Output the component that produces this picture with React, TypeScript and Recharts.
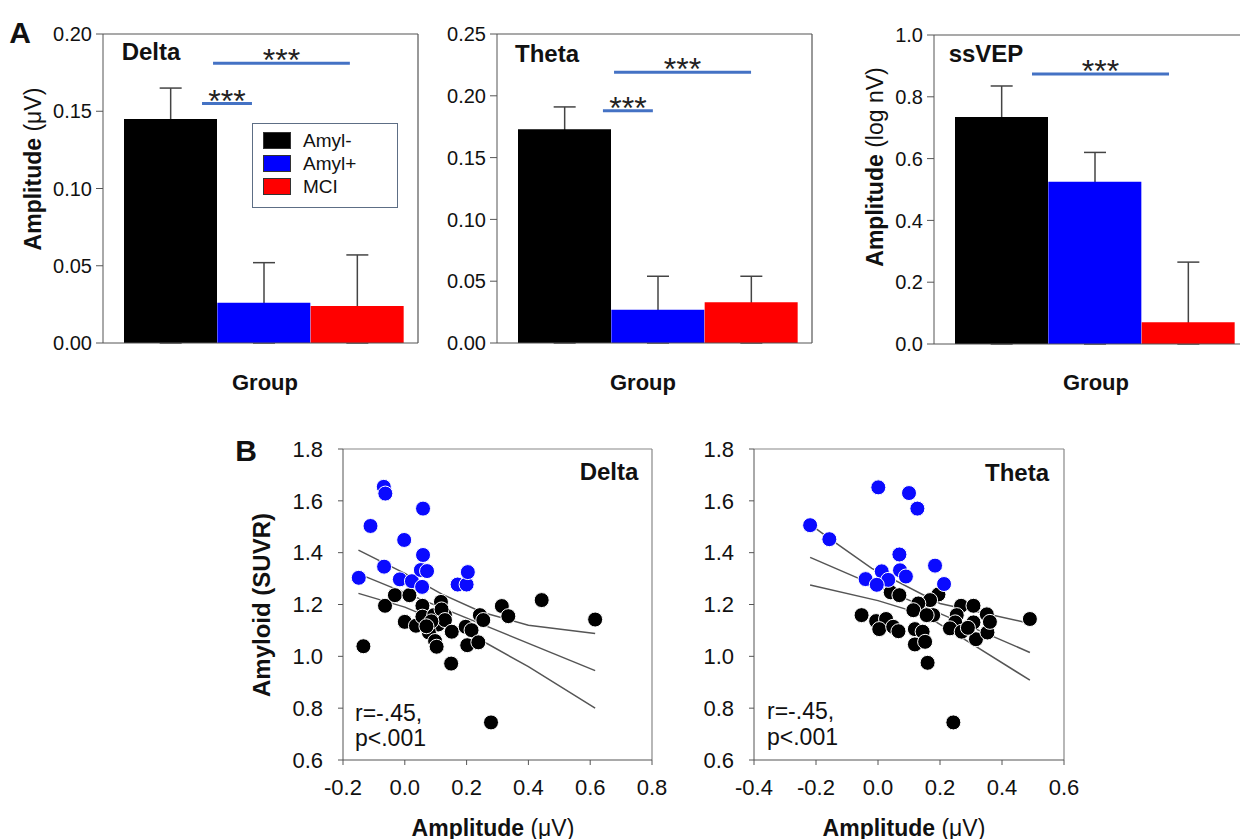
import React from "react";
import {
  BarChart,
  Bar,
  Cell,
  XAxis,
  YAxis,
  ErrorBar,
  ReferenceLine,
  Legend,
  ScatterChart,
  Scatter,
} from "recharts";

const FONT = '"Liberation Sans", Arial, Helvetica, sans-serif';
const AXIS = "#555";
const SIG = "#4472c4";
const FIT = "#555";

// groups (panel A)
const GROUPS = ["Amyl-", "Amyl+", "MCI"];
const GROUP_COLORS = ["#000000", "#0000ff", "#ff0000"];

// bar means and upper error (SE)
const deltaMean = [0.145, 0.026, 0.024];
const deltaErr = [0.02, 0.026, 0.033];
const thetaMean = [0.173, 0.027, 0.033];
const thetaErr = [0.018, 0.027, 0.021];
const ssvepMean = [0.735, 0.525, 0.07];
const ssvepErr = [0.1, 0.095, 0.195];

const deltaTicks = [0, 0.05, 0.1, 0.15, 0.2];
const thetaTicks = [0, 0.05, 0.1, 0.15, 0.2, 0.25];
const ssvepTicks = [0, 0.2, 0.4, 0.6, 0.8, 1.0];

// significance bars: [from, to, level] on the group index scale (0 = Amyl-)
const deltaSig = [
  [0.336, 0.871, 0.155],
  [0.454, 1.92, 0.181],
];
const thetaSig = [
  [0.41, 0.945, 0.188],
  [0.529, 1.997, 0.219],
];
const ssvepSig = [[0.325, 1.793, 0.874]];

// panel B scatter points [amplitude, SUVR]
const deltaAmylPos = [
  [-0.068, 1.654], [-0.063, 1.628], [-0.111, 1.503], [0.059, 1.57],
  [-0.002, 1.449], [0.059, 1.391], [-0.067, 1.346], [-0.149, 1.303],
  [-0.016, 1.297], [0.023, 1.29], [0.052, 1.333], [0.072, 1.329],
  [0.056, 1.268], [0.171, 1.277], [0.2, 1.277], [0.204, 1.325],
];
const deltaAmylNeg = [
  [-0.134, 1.039], [-0.064, 1.195], [-0.032, 1.236], [0.015, 1.236],
  [0.0, 1.133], [0.036, 1.118], [0.057, 1.195], [0.057, 1.153],
  [0.095, 1.159], [0.13, 1.159], [0.108, 1.123], [0.078, 1.092],
  [0.098, 1.059], [0.103, 1.037], [0.117, 1.21], [0.119, 1.181],
  [0.13, 1.14], [0.152, 1.095], [0.15, 0.972], [0.197, 1.114],
  [0.216, 1.101], [0.202, 1.043], [0.238, 1.054], [0.243, 1.159],
  [0.254, 1.14], [0.279, 0.745], [0.314, 1.194], [0.335, 1.155],
  [0.443, 1.217], [0.616, 1.142], [0.086, 1.135], [0.07, 1.116],
];
const deltaFit = [[-0.151, 1.319], [0.616, 0.945]];
const deltaUpper = [[-0.15, 1.41], [0.0, 1.32], [0.12, 1.24], [0.25, 1.17], [0.4, 1.12], [0.616, 1.088]];
const deltaLower = [[-0.15, 1.243], [0.0, 1.19], [0.12, 1.13], [0.25, 1.06], [0.4, 0.96], [0.616, 0.8]];

const thetaAmylPos = [
  [0.001, 1.652], [0.1, 1.63], [0.127, 1.57], [-0.219, 1.506],
  [-0.157, 1.452], [0.069, 1.393], [0.012, 1.328], [0.071, 1.332],
  [0.09, 1.308], [0.184, 1.35], [-0.04, 1.298], [0.033, 1.295],
  [-0.004, 1.276], [0.213, 1.279],
];
const thetaAmylNeg = [
  [0.041, 1.247], [0.069, 1.236], [0.195, 1.239], [0.168, 1.217],
  [0.13, 1.204], [0.114, 1.178], [0.178, 1.159], [0.157, 1.159],
  [-0.053, 1.159], [-0.006, 1.136], [0.026, 1.144], [0.004, 1.105],
  [0.049, 1.114], [0.066, 1.097], [0.119, 1.105], [0.144, 1.095],
  [0.119, 1.046], [0.152, 1.056], [0.16, 0.975], [0.268, 1.195],
  [0.308, 1.195], [0.351, 1.162], [0.254, 1.159], [0.249, 1.131],
  [0.308, 1.131], [0.232, 1.108], [0.27, 1.095], [0.316, 1.066],
  [0.353, 1.092], [0.361, 1.133], [0.29, 1.11], [0.49, 1.144],
  [0.243, 0.745],
];
const thetaFit = [[-0.219, 1.382], [0.49, 1.015]];
const thetaUpper = [[-0.219, 1.509], [-0.155, 1.453], [-0.02, 1.339], [0.2, 1.204], [0.49, 1.127]];
const thetaLower = [[-0.219, 1.275], [0.0, 1.215], [0.15, 1.16], [0.3, 1.05], [0.49, 0.908]];

const suvrTicks = [0.6, 0.8, 1.0, 1.2, 1.4, 1.6, 1.8];
const deltaAmpTicks = [-0.2, 0.0, 0.2, 0.4, 0.6, 0.8];
const thetaAmpTicks = [-0.4, -0.2, 0.0, 0.2, 0.4, 0.6];

// group index axis used for the annotation layer (matches the band centres)
const GROUP_DOMAIN = [-0.725, 2.65];

const pts = (arr: number[][]) => arr.map(([x, y]) => ({ x, y }));

function Txt({ x, y, size, bold, rot, left, children }: any) {
  return (
    <div
      style={{
        position: "absolute",
        left: x,
        top: y,
        transform: `translate(${left ? "0" : "-50%"}, -50%)${rot ? " rotate(-90deg)" : ""}`,
        fontSize: size,
        fontWeight: bold ? 700 : 400,
        whiteSpace: "nowrap",
        lineHeight: 1,
        color: "#111",
      }}
    >
      {children}
    </div>
  );
}

const renderStars = (props: any) => {
  const vb = props.viewBox;
  if (!vb) return null;
  return (
    <text
      x={vb.x + vb.width / 2}
      y={vb.y + 8}
      textAnchor="middle"
      fontSize={32}
      fill="#222"
      fontFamily={FONT}
    >
      ***
    </text>
  );
};

const LegendBox = () => (
  <div
    style={{
      width: 146,
      height: 85,
      boxSizing: "border-box",
      border: "1.5px solid #5d6e85",
      background: "#fff",
      position: "relative",
      fontFamily: FONT,
    }}
  >
    {GROUPS.map((g, i) => (
      <div key={g} style={{ position: "absolute", left: 10, top: 7 + i * 23, display: "flex", alignItems: "center", height: 19 }}>
        <div style={{ width: 28, height: 17, background: GROUP_COLORS[i], border: "1px solid #333", boxSizing: "border-box" }} />
        <span style={{ marginLeft: 12, fontSize: 19, color: "#111" }}>{g}</span>
      </div>
    ))}
  </div>
);

const noDot = () => <g />;

function BarPanel({ left, width, plotLeft, plotRight, plotTop, means, errs, ticks, digits, sig, legend }: any) {
  const data = GROUPS.map((g, i) => ({ group: g, value: means[i] }));
  // error whiskers: drawn under the bars, so only the upper half shows
  const errData = means.map((m: number, i: number) => ({ x: i, y: m, err: [m, errs[i]] }));
  const height = 400;
  const plotBottom = plotTop + 309;
  const yMax = ticks[ticks.length - 1];
  return (
    <div style={{ position: "absolute", left, top: 0, width, height }}>
      <div style={{ position: "absolute", left: 0, top: 0 }}>
        <ScatterChart
          width={width}
          height={height}
          margin={{ top: plotTop, left: plotLeft - left, right: left + width - plotRight, bottom: height - plotBottom }}
        >
          <XAxis type="number" dataKey="x" domain={GROUP_DOMAIN} allowDataOverflow hide />
          <YAxis type="number" dataKey="y" domain={[0, yMax]} allowDataOverflow hide />
          <ReferenceLine x={GROUP_DOMAIN[1]} stroke={AXIS} strokeWidth={1.2} />
          <Scatter data={errData} shape={noDot} isAnimationActive={false}>
            <ErrorBar dataKey="err" direction="y" width={11} stroke="#444" strokeWidth={1.5} isAnimationActive={false} />
          </Scatter>
          {sig.map(([a, b, lvl]: number[], i: number) => (
            <ReferenceLine
              key={i}
              segment={[{ x: a, y: lvl }, { x: b, y: lvl }]}
              stroke={SIG}
              strokeWidth={3}
              label={renderStars}
            />
          ))}
        </ScatterChart>
      </div>
      <div style={{ position: "absolute", left: 0, top: 0 }}>
        <BarChart
          width={width}
          height={height}
          data={data}
          barCategoryGap={0}
          margin={{ top: plotTop, left: plotLeft - left - 60, right: left + width - plotRight, bottom: height - plotBottom - 10 }}
        >
          <XAxis dataKey="group" tick={false} tickSize={7} height={10} stroke={AXIS} padding={{ left: 21, right: 14 }} />
          <YAxis
            domain={[0, yMax]}
            ticks={ticks}
            interval={0}
            width={60}
            tickSize={7}
            tickMargin={4}
            stroke={AXIS}
            tickFormatter={(v: number) => v.toFixed(digits)}
            tick={{ fill: "#111", fontSize: 20, fontFamily: FONT }}
          />
          <Bar dataKey="value" isAnimationActive={false}>
            {data.map((d, i) => (
              <Cell key={d.group} fill={GROUP_COLORS[i]} />
            ))}
          </Bar>
          <ReferenceLine y={yMax} stroke={AXIS} strokeWidth={1.2} />
          {legend && (
            <Legend
              layout="vertical"
              align="center"
              verticalAlign="middle"
              wrapperStyle={{ left: 252 - left, top: 123, width: 146 }}
              content={() => <LegendBox />}
            />
          )}
        </BarChart>
      </div>
    </div>
  );
}

const dot = (color: string) => (p: any) => (
  <circle cx={p.cx} cy={p.cy} r={7.5} fill={color} stroke="#fff" strokeWidth={1} />
);

function ScatterPanel({ left, width, plotLeft, plotRight, xDomain, xTicks, neg, pos, fit, upper, lower }: any) {
  const top = 430;
  const height = 409;
  const plotTop = 449;
  const plotBottom = 760;
  const lineStyle = { stroke: FIT, strokeWidth: 1.5 };
  return (
    <div style={{ position: "absolute", left, top }}>
      <ScatterChart
        width={width}
        height={height}
        margin={{ top: plotTop - top, left: plotLeft - left - 60, right: left + width - plotRight, bottom: height - (plotBottom - top) - 40 }}
      >
        <XAxis
          type="number"
          dataKey="x"
          domain={xDomain}
          ticks={xTicks}
          interval={0}
          height={40}
          tickSize={5}
          tickMargin={14}
          stroke={AXIS}
          tickFormatter={(v: number) => v.toFixed(1)}
          tick={{ fill: "#111", fontSize: 22, fontFamily: FONT }}
        />
        <YAxis
          type="number"
          dataKey="y"
          domain={[0.6, 1.8]}
          ticks={suvrTicks}
          interval={0}
          width={60}
          tickSize={5}
          tickMargin={15}
          stroke={AXIS}
          tickFormatter={(v: number) => v.toFixed(1)}
          tick={{ fill: "#111", fontSize: 22, fontFamily: FONT }}
        />
        <ReferenceLine y={1.8} stroke="#888" strokeWidth={1.2} />
        <ReferenceLine x={xDomain[1]} stroke="#888" strokeWidth={1.2} />
        <Scatter data={pts(upper)} line={lineStyle} shape={noDot} isAnimationActive={false} />
        <Scatter data={pts(fit)} line={lineStyle} shape={noDot} isAnimationActive={false} />
        <Scatter data={pts(lower)} line={lineStyle} shape={noDot} isAnimationActive={false} />
        <Scatter data={pts(neg)} shape={dot("#000")} isAnimationActive={false} />
        <Scatter data={pts(pos)} shape={dot("#0a0aff")} isAnimationActive={false} />
      </ScatterChart>
    </div>
  );
}

export default function App() {
  return (
    <div
      style={{
        position: "absolute",
        left: 0,
        top: 0,
        width: 1240,
        height: 839,
        overflow: "hidden",
        background: "#fff",
        fontFamily: FONT,
      }}
    >
      <BarPanel left={0} width={430} plotLeft={103} plotRight={418} plotTop={34} means={deltaMean} errs={deltaErr} ticks={deltaTicks} digits={2} sig={deltaSig} legend />
      <BarPanel left={420} width={400} plotLeft={497} plotRight={812} plotTop={34} means={thetaMean} errs={thetaErr} ticks={thetaTicks} digits={2} sig={thetaSig} />
      <BarPanel left={840} width={420} plotLeft={934} plotRight={1249} plotTop={35} means={ssvepMean} errs={ssvepErr} ticks={ssvepTicks} digits={1} sig={ssvepSig} />

      <ScatterPanel left={230} width={440} plotLeft={343} plotRight={652} xDomain={[-0.2, 0.8]} xTicks={deltaAmpTicks}
        neg={deltaAmylNeg} pos={deltaAmylPos} fit={deltaFit} upper={deltaUpper} lower={deltaLower} />
      <ScatterPanel left={690} width={400} plotLeft={754} plotRight={1064} xDomain={[-0.4, 0.6]} xTicks={thetaAmpTicks}
        neg={thetaAmylNeg} pos={thetaAmylPos} fit={thetaFit} upper={thetaUpper} lower={thetaLower} />

      {/* panel A texts */}
      <Txt x={20} y={33} size={30} bold>A</Txt>
      <Txt x={151} y={52} size={24} bold>Delta</Txt>
      <Txt x={547} y={54} size={24} bold>Theta</Txt>
      <Txt x={986} y={54} size={24} bold>ssVEP</Txt>
      <Txt x={33} y={169} size={23} rot>
        <b>Amplitude</b> (μV)
      </Txt>
      <Txt x={875} y={167} size={23} rot>
        <b>Amplitude</b> (log nV)
      </Txt>
      <Txt x={265} y={383} size={22} bold>Group</Txt>
      <Txt x={643} y={383} size={22} bold>Group</Txt>
      <Txt x={1096} y={383} size={22} bold>Group</Txt>

      {/* panel B texts */}
      <Txt x={246} y={451} size={30} bold>B</Txt>
      <Txt x={262} y={605} size={24} bold rot>Amyloid (SUVR)</Txt>
      <Txt x={609} y={472} size={24} bold>Delta</Txt>
      <Txt x={1017} y={473} size={24} bold>Theta</Txt>
      <Txt x={355} y={713} size={23} left>r=-.45,</Txt>
      <Txt x={355} y={738} size={23} left>p&lt;.001</Txt>
      <Txt x={767} y={711} size={23} left>r=-.45,</Txt>
      <Txt x={767} y={737} size={23} left>p&lt;.001</Txt>
      <Txt x={493} y={828} size={23}>
        <b>Amplitude</b> (μV)
      </Txt>
      <Txt x={904} y={828} size={23}>
        <b>Amplitude</b> (μV)
      </Txt>
    </div>
  );
}
